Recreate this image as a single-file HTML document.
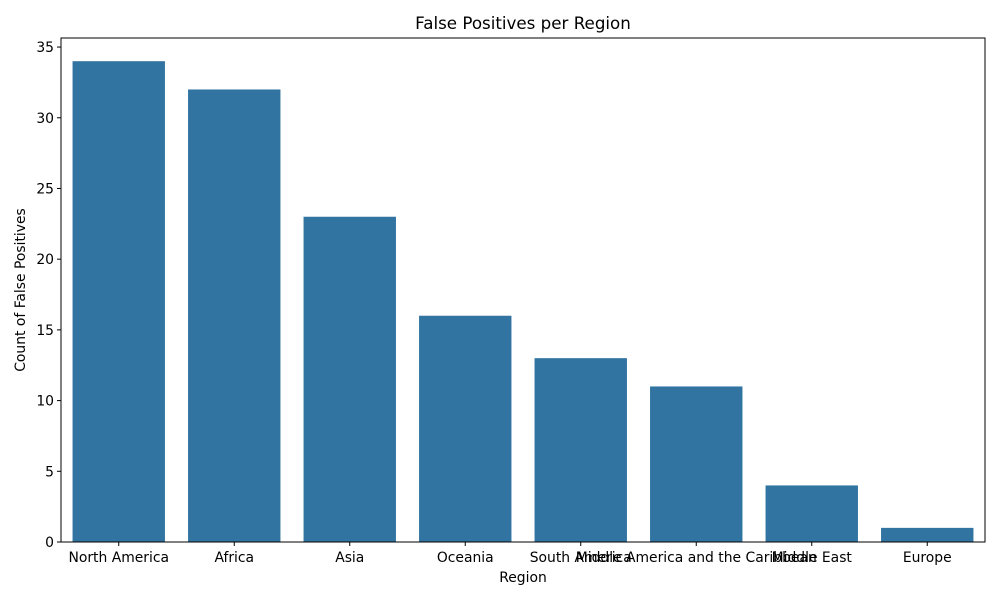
<!DOCTYPE html>
<html><head><meta charset="utf-8"><style>
body{margin:0;background:#fff}
svg text{font-family:"DejaVu Sans","Liberation Sans",sans-serif;fill:#000}
</style></head><body>
<svg id="chart" width="1000" height="600" xmlns="http://www.w3.org/2000/svg">
<text x="523" y="29" font-size="16.7" text-anchor="middle">False Positives per Region</text>
<g id="bars"></g>
<g id="yticks"></g>
<g id="xticks"></g>
<rect x="61" y="38" width="924" height="504" fill="none" stroke="#000" stroke-width="1"/>
<text x="523" y="582" font-size="13.9" text-anchor="middle">Region</text>
<text x="25" y="290" font-size="13.9" text-anchor="middle" transform="rotate(-90 25 290)">Count of False Positives</text>
</svg>
<script>
const categories=["North America","Africa","Asia","Oceania","South America","Middle America and the Caribbean","Middle East","Europe"];
const values=[34,32,23,16,13,11,4,1];
const yTicks=[0,5,10,15,20,25,30,35];
const L=61,R=985,T=38,B=542,yMax=35.64;
const ns="http://www.w3.org/2000/svg";
function y(v){return B-v/yMax*(B-T);}
const band=(R-L)/categories.length;
function xc(i){return L+band*(i+0.5);}
function mk(tag,attrs,parent){const e=document.createElementNS(ns,tag);for(const k in attrs)e.setAttribute(k,attrs[k]);parent.appendChild(e);return e;}
const gb=document.getElementById('bars'),gy=document.getElementById('yticks'),gx=document.getElementById('xticks');
values.forEach((v,i)=>{
  const w=band*0.8;
  const r=mk('rect',{x:xc(i)-w/2,y:y(v),width:w,height:B-y(v),fill:'#3274a1'},gb);
  
  
  const t=mk('line',{x1:xc(i),x2:xc(i),y1:B,y2:B+4,stroke:'#000'},gx);
  
  
  const lb=mk('text',{x:xc(i),y:B+20,'font-size':13.9,'text-anchor':'middle'},gx);
  lb.textContent=categories[i];
  
  
});
yTicks.forEach(v=>{
  const t=mk('line',{x1:L-4,x2:L,y1:y(v),y2:y(v),stroke:'#000'},gy);
  
  
  const lb=mk('text',{x:L-7,y:y(v)+5,'font-size':13.9,'text-anchor':'end'},gy);
  lb.textContent=v;
  
  
});
</script>
</body></html>
